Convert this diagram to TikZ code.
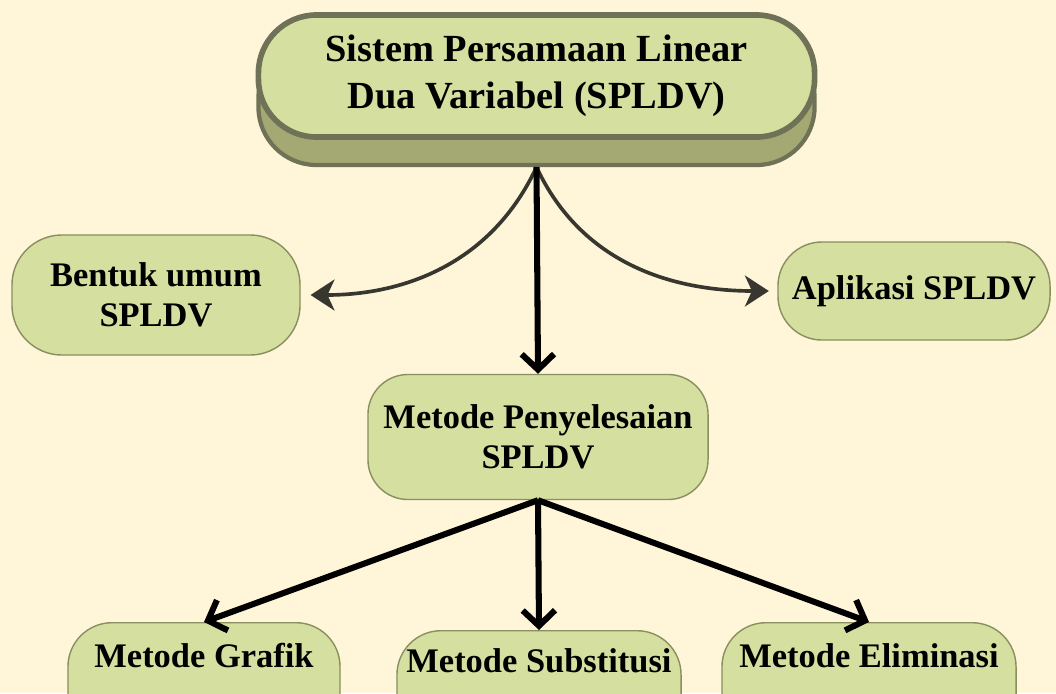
\documentclass[tikz,border=0pt]{standalone}
\usepackage{fontspec}
\setmainfont{Liberation Serif}
\usetikzlibrary{arrows.meta}

\definecolor{bgcream}{HTML}{FFF5D8}
\definecolor{boxfill}{HTML}{D4DFA0}
\definecolor{boxline}{HTML}{8A8F60}
\definecolor{faceline}{HTML}{6F7256}
\definecolor{basefill}{HTML}{A4A974}
\definecolor{curveline}{HTML}{37372F}

\tikzset{
  topic/.style={draw=boxline, fill=boxfill, line width=1pt, align=center,
    inner sep=0pt, font=\fontsize{24.5}{28.5}\selectfont\bfseries},
  method/.style={topic, anchor=north, text height=32pt, text depth=70pt,
    rounded corners=1.1cm},
  mainface/.style={draw=faceline, fill=boxfill, line width=4pt, align=center,
    minimum width=13.9cm, minimum height=3.05cm, rounded corners=1.45cm,
    font=\fontsize{27.3}{33.4}\selectfont\bfseries},
  mainbase/.style={draw=faceline, fill=basefill, line width=3pt,
    minimum width=13.9cm, minimum height=3.125cm, rounded corners=1.45cm},
  curvearrow/.style={draw=curveline, line width=2.6pt,
    -{Stealth[length=17pt,width=22pt,inset=5pt]}},
  straightarrow/.style={draw=black, line width=4.3pt,
    -{Straight Barb[length=11pt,width=23pt]}}
}

\begin{document}
\begin{tikzpicture}[x=0.025cm, y=-0.025cm]
\useasboundingbox (0,0) rectangle (1056,693);
\clip (0,0) rectangle (1056,693);
\fill[bgcream] (0,0) rectangle (1056,693);

% main topic with its darker base
\node[mainbase] (spldvbase) at (536.5,102.5) {};
\node[mainface] (spldv) at (536.5,76) {Sistem Persamaan Linear\\Dua Variabel (SPLDV)};

\node[topic, minimum width=7.2cm, minimum height=3cm, rounded corners=1.25cm] (bentuk) at (156,295) {Bentuk umum\\SPLDV};
\node[topic, minimum width=6.8cm, minimum height=2.45cm, rounded corners=1.1cm] (aplikasi) at (914,291) {Aplikasi SPLDV};
\node[topic, minimum width=8.5cm, minimum height=3.125cm, rounded corners=1cm] (metode) at (538,437) {Metode Penyelesaian\\SPLDV};

% the three methods
\node[method, minimum width=6.8cm] (grafik) at (204,622) {Metode Grafik};
\node[method, minimum width=7.1cm, text height=30pt] (substitusi) at (539,630) {Metode Substitusi};
\node[method, minimum width=7.35cm] (eliminasi) at (869,622) {Metode Eliminasi};

\draw[curvearrow, shorten >=7pt] (spldvbase.south) to[out=-115, in=0] (bentuk.east);
\draw[curvearrow, shorten >=6pt] (spldvbase.south) to[out=-65, in=180] (aplikasi.west);
\draw[straightarrow] (spldvbase.south) -- (metode.north);

\draw[straightarrow] (metode.south) -- (grafik.north);
\draw[straightarrow] (metode.south) -- (substitusi.north);
\draw[straightarrow] (metode.south) -- (eliminasi.north);
\end{tikzpicture}
\end{document}
